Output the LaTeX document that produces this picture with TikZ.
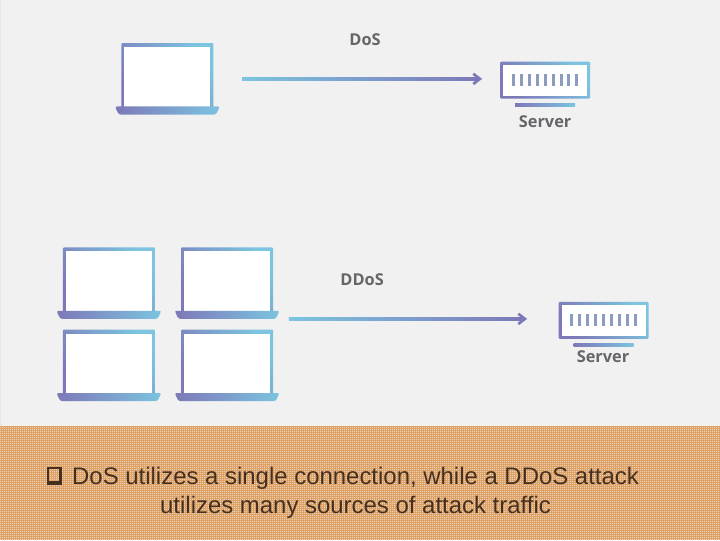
\documentclass[tikz,border=0pt]{standalone}
\usepackage{fontspec}
\setmainfont{Liberation Sans}
\newfontfamily\labelfont{Open Sans}
\usepackage{xcolor}
\usetikzlibrary{arrows.meta, positioning, calc, patterns.meta}
\definecolor{gradpurple}{HTML}{7D78B8}
\definecolor{gradcyan}{HTML}{7CC4E0}
\definecolor{pagegray}{HTML}{F1F1F1}
\definecolor{bandtan}{HTML}{DCA064}
\definecolor{labelgray}{HTML}{66666A}
\definecolor{notebrown}{HTML}{45301F}
\definecolor{slotblue}{HTML}{8C9CBC}
\tikzset{
    gradfill/.style={left color=gradpurple, right color=gradcyan, draw=none},
    gradfillup/.style={gradfill, shading angle=125},
    gradrev/.style={left color=gradcyan, right color=gradpurple, draw=none},
    lbl/.style={font=\labelfont\fontsize{15.5}{18}\selectfont\bfseries, text=labelgray, inner sep=0pt},
    note/.style={font=\fontsize{22.7}{27}\selectfont, text=notebrown, inner sep=0pt, anchor=base west},
    flow/.style={gradpurple, line width=0.09cm, -{Straight Barb[length=2.2mm, width=3.4mm]}},
    laptop/.pic={
        % screen frame, then white panel
        \node[gradfillup, rounded corners=1pt, minimum width=3.07cm, minimum height=2.17cm, inner sep=0pt] (-frame) at (0,1.08) {};
        \node[fill=white, minimum width=2.87cm, minimum height=2.0cm, inner sep=0pt] (-panel) at (0,1.03) {};
        % base
        \shade[gradfill, rounded corners=2pt] (-1.75,0.05) -- (1.75,0.05) -- (1.62,-0.22) -- (-1.62,-0.22) -- cycle;
    },
    serverbox/.pic={
        \node[gradfillup, rounded corners=1pt, minimum width=3cm, minimum height=1.23cm, inner sep=0pt] (-frame) at (0,0) {};
        \node[fill=white, minimum width=2.8cm, minimum height=1.03cm, inner sep=0pt] (-panel) at (0,0) {};
        % nine slots
        \foreach \i in {-4,...,4}
            \fill[slotblue] ({\i*0.265-0.05},-0.2) rectangle ({\i*0.265+0.05},0.2);
        % stand
        \shade[gradfill] (-1,-0.78) rectangle (1,-0.87);
    },
}
\begin{document}
\begin{tikzpicture}
    \useasboundingbox (0,0) rectangle (24,18);
    \fill[pagegray] (0,0) rectangle (24,18);
    % bottom band and dotted left edge
    \fill[bandtan] (0,0) rectangle (24,3.8);
    \fill[pattern={Dots[radius=0.022cm, distance=0.0667cm]}, pattern color=white!90!bandtan] (0,0) rectangle (24,3.8);
    \fill[pattern={Dots[radius=0.016cm, distance=0.0667cm]}, pattern color=bandtan] (0,3.8) rectangle (0.05,18);
    % single source
    \pic (lapA) at (5.58,14.4) {laptop};
    \pic (srvA) at (18.17,15.33) {serverbox};
    \node[lbl] (dosLabel) at (12.17,16.67) {DoS};
    \node[lbl] (srvAlabel) at (18.17,13.93) {Server};
    \coordinate (arrA1) at (8.07,15.37);
    \coordinate (arrA2) at (16.07,15.37);
    \draw[flow] (arrA1) -- (arrA2);
    \shade[gradrev] ($(arrA1)+(0,0.045)$) rectangle ($(arrA2)+(-0.1,-0.045)$);
    % many sources
    \pic (lapB) at (3.63,7.59) {laptop};
    \pic (lapC) at (7.57,7.59) {laptop};
    \pic (lapD) at (3.63,4.85) {laptop};
    \pic (lapE) at (7.57,4.85) {laptop};
    \pic (srvB) at (20.12,7.32) {serverbox};
    \node[lbl] (ddosLabel) at (12.07,8.67) {DDoS};
    \node[lbl] (srvBlabel) at (20.1,6.1) {Server};
    \coordinate (arrB1) at (9.63,7.37);
    \coordinate (arrB2) at (17.57,7.37);
    \draw[flow] (arrB1) -- (arrB2);
    \shade[gradrev] ($(arrB1)+(0,0.045)$) rectangle ($(arrB2)+(-0.1,-0.045)$);
    % note
    \draw[notebrown, line width=0.04cm] (1.6,1.95) rectangle (2.05,2.4);
    \fill[notebrown] (1.57,1.85) rectangle (2.07,1.97);
    \fill[notebrown] (1.97,1.85) rectangle (2.07,2.36);
    \node[note] (noteA) at (2.4,1.85) {DoS utilizes a single connection, while a DDoS attack};
    \node[note, anchor=base] (noteB) at (11.85,0.87) {utilizes many sources of attack traffic};
\end{tikzpicture}
\end{document}
